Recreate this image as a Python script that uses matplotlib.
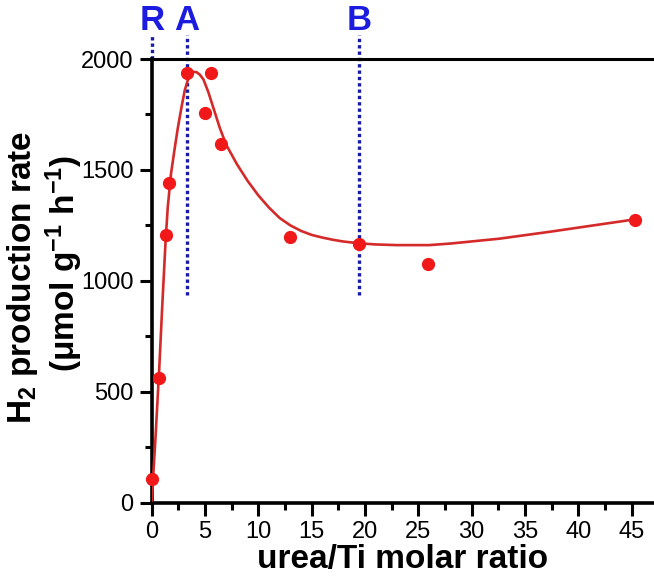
import matplotlib
matplotlib.use('Agg')
import matplotlib.pyplot as plt
from matplotlib.ticker import MultipleLocator

plt.rcParams['font.family'] = ['Liberation Sans', 'DejaVu Sans']
plt.rcParams['mathtext.fontset'] = 'custom'
plt.rcParams['mathtext.rm'] = 'Liberation Sans:bold'
plt.rcParams['mathtext.default'] = 'rm'

# measured points
ratio = [0.05, 0.7, 1.3, 1.65, 3.28, 4.97, 5.53, 6.52, 12.96, 19.46, 25.92, 45.3]
rate = [105, 563, 1205, 1442, 1935, 1755, 1935, 1616, 1196, 1164, 1075, 1275]

# fitted curve
fit_x = [0.0, 0.35, 0.7, 1.0, 1.3, 1.5, 1.8, 2.1, 2.45, 2.8, 3.1, 3.45, 3.7, 3.95,
         4.2, 4.5, 4.85, 5.3, 5.8, 6.4, 7.0, 8.0, 9.0, 10.0, 11.0, 12.0, 13.0, 14.0,
         15.0, 16.0, 17.0, 18.0, 19.5, 21.0, 23.0, 26.0, 28.0, 32.6, 37.3, 42.0, 45.3]
fit_y = [10, 290, 600, 900, 1180, 1330, 1480, 1580, 1690, 1785, 1860, 1915, 1935, 1942,
         1941, 1930, 1908, 1852, 1777, 1687, 1612, 1525, 1450, 1385, 1330, 1283, 1250,
         1225, 1207, 1195, 1185, 1177, 1169, 1164, 1161, 1161, 1168, 1190, 1221, 1254,
         1277]

# sample markers (R, A, B)
mark_x = [0.0, 3.28, 19.46]
mark_lbl = ['R', 'A', 'B']
mark_bottom = [2000, 935, 935]

fig = plt.figure(figsize=(6.54, 5.79), dpi=100)
ax = fig.add_axes([0.232, 0.132, 0.768, 0.766])

for xv, yb in zip(mark_x, mark_bottom):
    ax.plot([xv, xv], [yb, 2108], color='#1a1aa8', lw=2.4, ls=(0, (1, 0.9)),
            clip_on=False, zorder=2)
for xv, lb in zip(mark_x, mark_lbl):
    ax.text(xv, 2175, lb, color='#1c1ce0', fontsize=25, fontweight='bold',
            ha='center', va='center')

ax.plot(fit_x, fit_y, color='#d42a2a', lw=1.9, zorder=3)
ax.plot(ratio, rate, 'o', color='#f01818', ms=8.5, mec='#f01818', clip_on=False, zorder=4)

ax.set_xlim(0, 47.1)
ax.set_ylim(0, 2000)
ax.xaxis.set_major_locator(MultipleLocator(5))
ax.xaxis.set_minor_locator(MultipleLocator(2.5))
ax.yaxis.set_major_locator(MultipleLocator(500))
ax.yaxis.set_minor_locator(MultipleLocator(250))
ax.tick_params(which='major', direction='out', length=9, width=2.2, labelsize=17, pad=4)
ax.tick_params(which='minor', direction='out', length=5, width=2.2)

ax.spines['right'].set_visible(False)
ax.spines['left'].set_linewidth(2.6)
ax.spines['bottom'].set_linewidth(2.6)
ax.spines['top'].set_linewidth(2.2)

ax.set_xlabel('urea/Ti molar ratio', fontsize=24, fontweight='bold', labelpad=1)
fig.text(0.035, 0.52, 'H$_2$ production rate', rotation=90, fontsize=24,
         fontweight='bold', ha='center', va='center')
fig.text(0.098, 0.545, '(μmol g$^{-1}$ h$^{-1}$)', rotation=90, fontsize=24,
         fontweight='bold', ha='center', va='center')

fig.savefig('out.png', dpi=100)
